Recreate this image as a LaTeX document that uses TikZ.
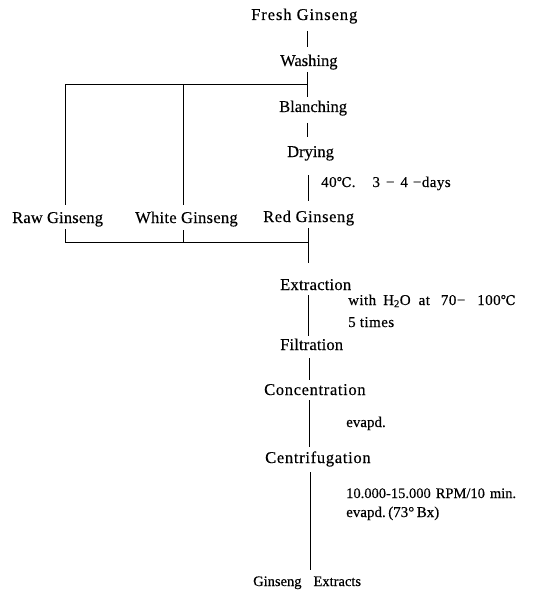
\documentclass[tikz,border=0pt]{standalone}
\usepackage{fontspec}
\setmainfont{Liberation Serif}[FakeBold=0.35]
\newfontfamily\dvs{DejaVu Serif}[FakeBold=0.2]
\newcommand{\degC}{{\dvs\fontsize{13.5}{15}\selectfont ℃}}
\begin{document}
\begin{tikzpicture}[x=1pt,y=-1pt,
  lab/.style={font=\fontsize{16.5}{19}\selectfont, inner sep=0pt, anchor=base west},
  note/.style={font=\fontsize{15}{18}\selectfont, inner sep=0pt, anchor=base west},
  conn/.style={line width=1pt, draw=black}]
\fill[white] (0,0) rectangle (546,591);
\useasboundingbox (0,0) rectangle (546,591);

% main labels
\node[lab] (fresh) at (251,20) {\addfontfeatures{LetterSpace=5.7}Fresh Ginseng};
\node[lab] (washing) at (280,66) {Washing};
\node[lab] (blanching) at (279,112) {Blanching};
\node[lab] (drying) at (287,157) {Drying};
\node[lab] (raw) at (12,223) {\addfontfeatures{LetterSpace=1}Raw Ginseng};
\node[lab] (white) at (135,223) {\addfontfeatures{LetterSpace=1.7}White Ginseng};
\node[lab] (red) at (263,222) {\addfontfeatures{LetterSpace=3.5}Red Ginseng};
\node[lab] (extraction) at (280,290) {\addfontfeatures{LetterSpace=1.5}Extraction};
\node[lab] (filtration) at (280,350) {\addfontfeatures{LetterSpace=1}Filtration};
\node[lab] (concentration) at (264,395) {\addfontfeatures{LetterSpace=4}Concentration};
\node[lab] (centrifugation) at (265,463) {\addfontfeatures{LetterSpace=4.3}Centrifugation};
\node[lab, font=\fontsize{14.5}{17}\selectfont] (extracts) at (253,586) {Ginseng\hspace{12pt}Extracts};

% notes
\node[note] (temp) at (321,187) {\addfontfeatures{LetterSpace=3}40\degC.\hspace{17pt}3\hspace{6pt}−\hspace{6pt}4\hspace{5pt}−days};
\node[note] (water) at (348,305) {\addfontfeatures{LetterSpace=3}with\hspace{7pt}H\textsubscript{2}O\hspace{8pt}at\hspace{11pt}70−\hspace{12pt}100\degC};
\node[note] (times) at (348,327) {\addfontfeatures{LetterSpace=3}5 times};
\node[note] (evapdA) at (346,427) {evapd.};
\node[note, font=\fontsize{14.5}{17}\selectfont] (rpm) at (346,498) {10.000-15.000\hspace{5pt}RPM/10\hspace{5pt}min.};
\node[note] (evapdB) at (346,517) {evapd.\,(73°\,Bx)};

% connector end points
\coordinate (a1) at (307,31);  \coordinate (a2) at (307,47);
\coordinate (b1) at (307,72);  \coordinate (b2) at (307,97);
\coordinate (bj) at (307,85);
\coordinate (c1) at (307,123); \coordinate (c2) at (307,137);
\coordinate (d1) at (308,175); \coordinate (d2) at (308,201);
\coordinate (rawT) at (65,85);  \coordinate (rawU) at (65,205);
\coordinate (whT) at (183,85);  \coordinate (whU) at (183,205);
\coordinate (rawL) at (65,229); \coordinate (rawB) at (65,242);
\coordinate (whL) at (183,230); \coordinate (whB) at (183,242);
\coordinate (e1) at (308,228);  \coordinate (eJ) at (308,242); \coordinate (e2) at (308,263);
\coordinate (f1) at (308,295);  \coordinate (f2) at (308,336);
\coordinate (g1) at (309,358);  \coordinate (g2) at (309,380);
\coordinate (h1) at (309,400);  \coordinate (h2) at (309,447);
\coordinate (k1) at (310,472);  \coordinate (k2) at (310,570);

\draw[conn] (a1) -- (a2);
\draw[conn] (b1) -- (b2);
\draw[conn] (bj) -- (rawT) -- (rawU);
\draw[conn] (whT) -- (whU);
\draw[conn] (c1) -- (c2);
\draw[conn] (d1) -- (d2);
\draw[conn] (rawL) -- (rawB) -- (eJ);
\draw[conn] (whL) -- (whB);
\draw[conn] (e1) -- (e2);
\draw[conn] (f1) -- (f2);
\draw[conn] (g1) -- (g2);
\draw[conn] (h1) -- (h2);
\draw[conn] (k1) -- (k2);
\end{tikzpicture}
\end{document}
